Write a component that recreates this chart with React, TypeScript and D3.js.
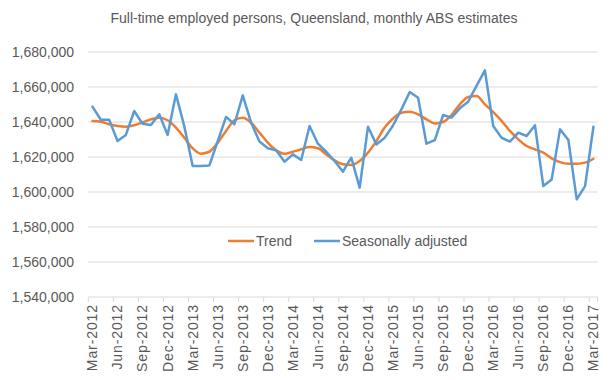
import React from "react";
import * as d3 from "d3";

const months = [
  "Mar-2012","Apr-2012","May-2012","Jun-2012","Jul-2012","Aug-2012","Sep-2012","Oct-2012","Nov-2012","Dec-2012",
  "Jan-2013","Feb-2013","Mar-2013","Apr-2013","May-2013","Jun-2013","Jul-2013","Aug-2013","Sep-2013","Oct-2013","Nov-2013","Dec-2013",
  "Jan-2014","Feb-2014","Mar-2014","Apr-2014","May-2014","Jun-2014","Jul-2014","Aug-2014","Sep-2014","Oct-2014","Nov-2014","Dec-2014",
  "Jan-2015","Feb-2015","Mar-2015","Apr-2015","May-2015","Jun-2015","Jul-2015","Aug-2015","Sep-2015","Oct-2015","Nov-2015","Dec-2015",
  "Jan-2016","Feb-2016","Mar-2016","Apr-2016","May-2016","Jun-2016","Jul-2016","Aug-2016","Sep-2016","Oct-2016","Nov-2016","Dec-2016",
  "Jan-2017","Feb-2017","Mar-2017",
];

const seasonallyAdjusted = [
  1648800, 1641300, 1641300, 1629100, 1632600, 1646300, 1639000, 1638300, 1644400, 1632600,
  1655800, 1637500, 1614900, 1614900, 1615200, 1629000, 1642900, 1638700, 1655200, 1639600,
  1628800, 1625000, 1623800, 1617300, 1621500, 1618300, 1637700, 1627600, 1623000, 1617700,
  1611600, 1619600, 1602500, 1637300, 1627200, 1631000, 1638000, 1647200, 1657100, 1653900,
  1627600, 1629700, 1644000, 1642500, 1647800, 1651600, 1660600, 1669500, 1637700, 1631000,
  1628800, 1633900, 1632000, 1638100, 1603400, 1607200, 1635800, 1629700, 1595800, 1603400,
  1637300,
];

const trend = [
  1640600, 1640200, 1638700, 1637700, 1637300, 1638100, 1639800, 1641500, 1642500, 1641000,
  1636800, 1631000, 1625000, 1621900, 1623000, 1628200, 1634900, 1641000, 1642500, 1639600,
  1633900, 1628200, 1623800, 1621900, 1623000, 1624400, 1625700, 1625000, 1621500, 1618100,
  1615800, 1615400, 1617700, 1622500, 1629100, 1636800, 1642000, 1645300, 1645900, 1644400,
  1641500, 1639200, 1640000, 1644000, 1650100, 1654300, 1654900, 1650100, 1645600, 1640600,
  1634900, 1630100, 1626300, 1624400, 1622500, 1619200, 1617100, 1616200, 1616200, 1616800,
  1619000,
];

const yTicks = [1540000, 1560000, 1580000, 1600000, 1620000, 1640000, 1660000, 1680000];
const tickLabels = [
  "Mar-2012","Jun-2012","Sep-2012","Dec-2012","Mar-2013","Jun-2013","Sep-2013","Dec-2013",
  "Mar-2014","Jun-2014","Sep-2014","Dec-2014","Mar-2015","Jun-2015","Sep-2015","Dec-2015",
  "Mar-2016","Jun-2016","Sep-2016","Dec-2016","Mar-2017",
];

const seriesNames = ["Trend", "Seasonally adjusted"];
const seriesColors = ["#ED7D31", "#5B9BD5"];

const W = 612;
const H = 380;
const FONT = "'Liberation Sans', Arial, sans-serif";
const TEXT = "#595959";

export default function App() {
  const x = d3.scaleBand<string>().domain(months).range([88.3, 597.6]).paddingInner(0).paddingOuter(0);
  const y = d3.scaleLinear().domain([1540000, 1680000]).range([297, 52]);
  const cx = (m: string) => (x(m) as number) + x.bandwidth() / 2;
  const fmt = d3.format(",");

  const lineLinear = d3
    .line<number>()
    .x((_, i) => cx(months[i]))
    .y((d) => y(d))
    .curve(d3.curveLinear);
  const lineSmooth = d3
    .line<number>()
    .x((_, i) => cx(months[i]))
    .y((d) => y(d))
    .curve(d3.curveMonotoneX);

  const [x0, x1] = x.range();
  const tickPositions = months
    .map((m, i) => ({ m, i }))
    .filter((d) => d.i % 3 === 0)
    .map((d) => x(d.m) as number)
    .concat([x1]);

  const legendY = 241;

  return (
    <svg width={W} height={H} style={{ display: "block", position: "absolute", left: 0, top: 0 }}>
      <rect x={0} y={0} width={W} height={H} fill="#fff" />
      <text x={314} y={23} textAnchor="middle" fontFamily={FONT} fontSize={14} fill={TEXT}>
        Full-time employed persons, Queensland, monthly ABS estimates
      </text>

      {yTicks.map((t) => (
        <g key={t}>
          <line x1={x0} x2={x1} y1={y(t)} y2={y(t)} stroke="#D9D9D9" strokeWidth={1} />
          <text x={74} y={y(t)} dy="0.35em" textAnchor="end" fontFamily={FONT} fontSize={14} fill={TEXT}>
            {fmt(t)}
          </text>
        </g>
      ))}

      {tickPositions.map((p, i) => (
        <line key={i} x1={p} x2={p} y1={y(1540000)} y2={y(1540000) + 5} stroke="#D9D9D9" strokeWidth={1} />
      ))}

      {tickLabels.map((lab) => {
        const px = cx(lab);
        const py = 304;
        return (
          <text
            key={lab}
            transform={`translate(${px},${py}) rotate(-90)`}
            textAnchor="end"
            dy="0.35em"
            fontFamily={FONT}
            fontSize={14}
            letterSpacing={0.9}
            fill={TEXT}
          >
            {lab}
          </text>
        );
      })}

      <path d={lineSmooth(trend) || ""} fill="none" stroke={seriesColors[0]} strokeWidth={2.5} strokeLinejoin="round" strokeLinecap="round" />
      <path d={lineLinear(seasonallyAdjusted) || ""} fill="none" stroke={seriesColors[1]} strokeWidth={2.5} strokeLinejoin="round" strokeLinecap="round" />

      <g>
        <line x1={228} x2={254} y1={legendY} y2={legendY} stroke={seriesColors[0]} strokeWidth={2.5} />
        <text x={256} y={legendY} dy="0.35em" fontFamily={FONT} fontSize={14} fill={TEXT}>
          {seriesNames[0]}
        </text>
        <line x1={314} x2={340} y1={legendY} y2={legendY} stroke={seriesColors[1]} strokeWidth={2.5} />
        <text x={342} y={legendY} dy="0.35em" fontFamily={FONT} fontSize={14} fill={TEXT}>
          {seriesNames[1]}
        </text>
      </g>
    </svg>
  );
}
